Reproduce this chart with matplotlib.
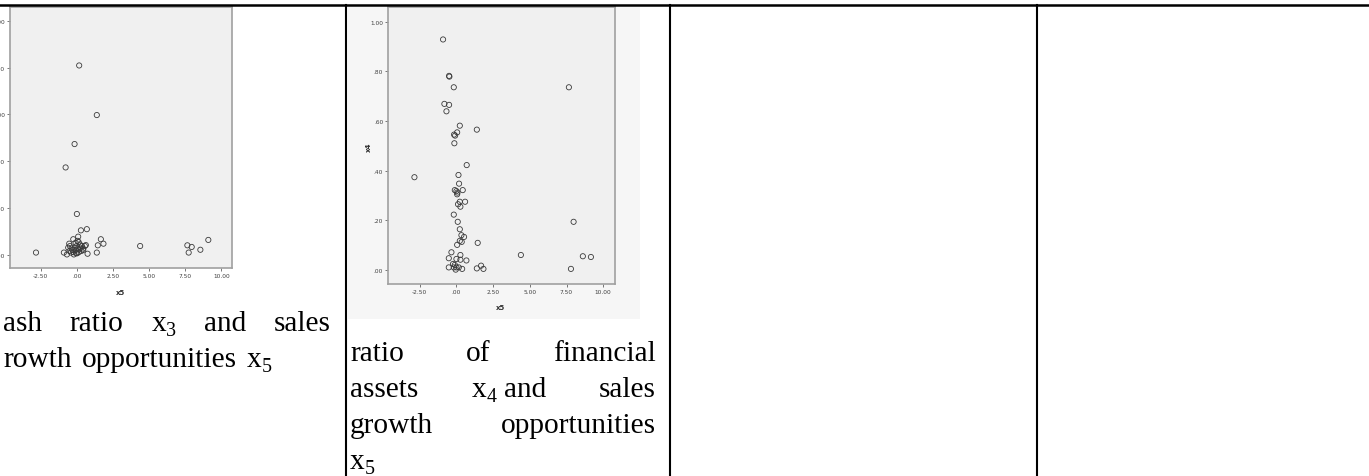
import matplotlib
matplotlib.use("Agg")
import matplotlib.pyplot as plt
from matplotlib.lines import Line2D
from matplotlib.patches import Rectangle

W, H = 1369, 477
DPI = 100
SERIF = "Liberation Serif"

# cash ratio x3 against sales growth opportunities x5
x5_a = [0.16, 1.38, -0.16, -0.78, 0.00, 0.69, 0.28, 0.09, 1.66, 1.84, 1.45, 4.38,
        7.65, 7.95, 8.55, 9.10, 7.74, -2.83, 1.38, 0.74, -0.90, -0.69,
        -0.25, -0.53, -0.48, -0.37, -0.51, -0.25, -0.14, -0.02, 0.05, -0.07,
        0.16, 0.25, 0.35, 0.44, 0.55, 0.62, 0.21, 0.12, -0.41, -0.21, 0.02,
        0.14, 0.32, 0.44, -0.30, -0.60, -0.09, 0.05, -0.05]
x3 = [8.09, 5.97, 4.73, 3.73, 1.74, 1.09, 1.04, 0.77, 0.66, 0.47, 0.40, 0.37,
      0.40, 0.33, 0.21, 0.63, 0.09, 0.09, 0.09, 0.04, 0.09, 0.01,
      0.66, 0.47, 0.37, 0.26, 0.16, 0.11, 0.30, 0.37, 0.26, 0.20,
      0.23, 0.30, 0.37, 0.26, 0.37, 0.41, 0.44, 0.54, 0.09, 0.01, 0.06,
      0.11, 0.16, 0.20, 0.20, 0.30, 0.51, 0.59, 0.06]

# ratio of financial assets x4 against sales growth opportunities x5
x5_b = [-0.91, -0.50, -0.48, -0.18, 7.66, -0.82, -0.50, -0.68, 0.23, 1.39, 0.05,
        -0.16, -0.09, -0.14, 0.70, -2.86, 0.14, 0.18, -0.11, 0.00, 0.07, 0.05,
        0.43, 0.59, 0.23, 0.11, 0.27, -0.18, 0.09, 7.98, 0.23, 0.34, 0.52,
        0.23, 0.36, 1.45, 0.05, -0.34, 0.27, 4.39, 8.61, 9.16, -0.52, 0.00,
        0.27, 0.68, -0.23, -0.52, -0.18, 0.00, 0.16, 0.39, -0.05, 1.39, 1.68,
        1.84, 7.80, -0.11]
x4 = [0.929, 0.782, 0.779, 0.736, 0.736, 0.669, 0.665, 0.639, 0.581, 0.565, 0.554,
      0.545, 0.541, 0.510, 0.422, 0.373, 0.382, 0.347, 0.321, 0.317, 0.311, 0.304,
      0.321, 0.274, 0.274, 0.264, 0.254, 0.222, 0.193, 0.193, 0.163, 0.139, 0.132,
      0.116, 0.112, 0.108, 0.100, 0.070, 0.059, 0.059, 0.054, 0.051, 0.046, 0.043,
      0.040, 0.037, 0.023, 0.009, 0.009, 0.009, 0.009, 0.003, 0.000, 0.005, 0.016,
      0.003, 0.003, 0.019]

x5_ticks = [-2.5, 0, 2.5, 5, 7.5, 10]
x5_labels = ["-2.50", ".00", "2.50", "5.00", "7.50", "10.00"]
x3_ticks = [0, 2, 4, 6, 8, 10]
x3_labels = [".00", "2.00", "4.00", "6.00", "8.00", "10.00"]
x4_ticks = [0, 0.2, 0.4, 0.6, 0.8, 1.0]
x4_labels = [".00", ".20", ".40", ".60", ".80", "1.00"]

# captions under each chart, one list per printed line ("_" marks a subscript)
caption_a = [["ash", "ratio", "x_3", "and", "sales"],
             ["rowth", "opportunities", "x_5"]]
caption_b = [["ratio", "of", "financial"],
             ["assets", "x_4 and", "sales"],
             ["growth", "opportunities"],
             ["x_5"]]

fig = plt.figure(figsize=(W / DPI, H / DPI), dpi=DPI)
fig.patch.set_facecolor("white")
renderer = fig.canvas.get_renderer()


def box(l, t, r, b):
    return [l / W, 1 - b / H, (r - l) / W, (b - t) / H]


def fx(x):
    return x / W


def fy(y):
    return 1 - y / H


# faint chart-image background behind the second scatter
fig.patches.append(Rectangle((fx(348), fy(320)), fx(640) - fx(348), fy(8) - fy(320),
                             transform=fig.transFigure, facecolor="#f6f6f6",
                             edgecolor="none", zorder=-5))


def scatter_panel(rect, x, y, xlim, ylim, yticks, ylabels):
    ax = fig.add_axes(rect)
    ax.set_zorder(2)
    ax.set_facecolor("#f0f0f0")
    ax.scatter(x, y, s=14, facecolors="none", edgecolors="#3a3a3a", linewidths=0.6)
    ax.set_xlim(*xlim)
    ax.set_ylim(*ylim)
    ax.set_xticks(x5_ticks, x5_labels)
    ax.set_yticks(yticks, ylabels)
    for sp in ax.spines.values():
        sp.set_color("#a0a0a0")
        sp.set_linewidth(1.2)
    ax.tick_params(length=2, width=0.6, color="#606060", labelsize=4.2,
                   labelcolor="#404040", pad=1.5)
    return ax


scatter_panel(box(10, 8, 232, 269), x5_a, x3, (-4.63, 10.74), (-0.57, 10.59),
              x3_ticks, x3_labels)
fig.text(fx(121), fy(293), "x5", fontsize=5, fontweight="bold", color="#303030",
         ha="center", va="center")

scatter_panel(box(388, 8, 615, 285), x5_b, x4, (-4.66, 10.8), (-0.058, 1.06),
              x4_ticks, x4_labels)
fig.text(fx(501), fy(308), "x5", fontsize=5, fontweight="bold", color="#303030",
         ha="center", va="center")
fig.text(fx(369), fy(147), "x4", fontsize=5, fontweight="bold", color="#303030",
         ha="center", va="center", rotation=90)

# table rules
fig.lines.append(Line2D([0, 1], [fy(6), fy(6)], transform=fig.transFigure,
                        color="black", linewidth=1.8, zorder=5))
for xv in [346, 670, 1037]:
    fig.lines.append(Line2D([fx(xv), fx(xv)], [fy(6), 0], transform=fig.transFigure,
                            color="black", linewidth=1.5, zorder=5))

# caption text, justified like the word-processor table cells
FS = 21.2
SUB = 0.68
SPACE = 0.25 * FS * DPI / 72
SUB_DROP = 0.16 * FS * DPI / 72


def width_of(s, size):
    t = fig.text(0, 0, s, fontsize=size, family=SERIF)
    w = t.get_window_extent(renderer).width
    t.remove()
    return w


def runs_of(word):
    runs = []
    for i, tok in enumerate(word.split(" ")):
        if i:
            runs.append((" ", False))
        if "_" in tok:
            base, sub = tok.split("_")
            runs.append((base, False))
            runs.append((sub, True))
        else:
            runs.append((tok, False))
    return runs


def run_width(run):
    text, sub = run
    if text == " ":
        return SPACE
    return width_of(text, FS * SUB if sub else FS)


def draw_line(words, x0, x1, base, justify):
    runs = [runs_of(w) for w in words]
    widths = [sum(run_width(r) for r in rs) for rs in runs]
    if justify and len(words) > 1:
        gap = (x1 - x0 - sum(widths)) / (len(words) - 1)
    else:
        gap = SPACE * 1.4
    x = x0
    for rs in runs:
        for text, sub in rs:
            if text == " ":
                x += SPACE
                continue
            size = FS * SUB if sub else FS
            y = base + (SUB_DROP if sub else 0)
            fig.text(fx(x), fy(y), text, fontsize=size, family=SERIF,
                     ha="left", va="baseline", color="black")
            x += width_of(text, size)
        x += gap


def draw_caption(lines, x0, x1, first_base, step):
    for i, words in enumerate(lines):
        draw_line(words, x0, x1, first_base + i * step, i < len(lines) - 1)


draw_caption(caption_a, 3, 331, 331, 36)
draw_caption(caption_b, 350, 656, 361, 36)

fig.savefig("out.png", dpi=DPI)
